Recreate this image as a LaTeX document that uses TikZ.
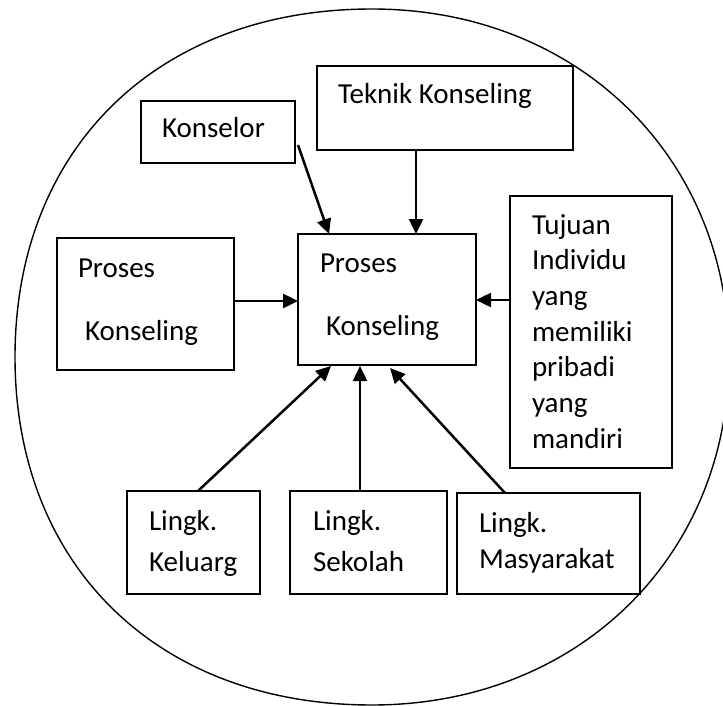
\documentclass[tikz,border=0pt]{standalone}
\usepackage{fontspec}
\setmainfont{Carlito}
\usetikzlibrary{arrows.meta,calc}
\begin{document}
\begin{tikzpicture}[x=1pt,y=-1pt,
  box/.style={draw, line width=1.7pt, inner sep=0pt, outer sep=0pt, anchor=north west},
  txt/.style={anchor=base west, inner sep=0pt, outer sep=0pt, font=\fontsize{29}{35.7}\selectfont},
  arr/.style={line width=2.5pt, -{Triangle[length=15pt,width=14pt]}},
  ring/.style={line width=1.4pt}]
\useasboundingbox (0,0) rectangle (723,706);
\clip (0,0) rectangle (723,706);

% outer oval
\draw[ring] (15,357) .. controls (15,148.2) and (157.8,9) .. (372,9)
  .. controls (577.3,9) and (729,156.9) .. (729,357)
  .. controls (729,557.1) and (577.3,705) .. (372,705)
  .. controls (157.8,705) and (15,565.8) .. (15,357) -- cycle;

% boxes
\node[box, minimum width=154pt, minimum height=62pt]  (konselor) at (141,101) {};
\node[box, minimum width=256pt, minimum height=84pt]  (teknik)   at (317,66)  {};
\node[box, minimum width=177pt, minimum height=132pt] (prosesL)  at (57,238)  {};
\node[box, minimum width=178pt, minimum height=131pt] (center)   at (298,234) {};
\node[box, minimum width=162pt, minimum height=272pt] (tujuan)   at (510,196) {};
\node[box, minimum width=133pt, minimum height=103pt] (keluarg)  at (127,491) {};
\node[box, minimum width=157pt, minimum height=103pt] (sekolah)  at (290,491) {};
\node[box, minimum width=183pt, minimum height=101pt] (masy)     at (457,493) {};

% texts
\node[txt] (tTeknik)   at (338,104) {Teknik Konseling};
\node[txt] (tKonselor) at (162,138) {Konselor};
\node[txt] (tPL1) at (78,277)  {Proses};
\node[txt] (tPL2) at (85,340)  {Konseling};
\node[txt] (tPC1) at (320,272) {Proses};
\node[txt] (tPC2) at (326,335) {Konseling};
\node[txt, text width=135pt, align=left] (tTujuan) at (532,234)
  {Tujuan\\Individu\\yang\\memiliki\\pribadi\\yang\\mandiri};
\node[txt] (tK1) at (149,530) {Lingk.};
\node[txt] (tK2) at (149,571) {Keluarg};
\node[txt] (tS1) at (313,530) {Lingk.};
\node[txt] (tS2) at (313,571) {Sekolah};
\node[txt] (tM1) at (479,532) {Lingk.};
\node[txt] (tM2) at (479,568) {Masyarakat};

% connectors
\draw[arr] ($(konselor.north east)+(3,44)$) -- ($(center.north west)+(31,0)$);
\draw[arr] ($(teknik.south west)+(99,0)$) -- ($(center.north west)+(118,0)$);
\draw[arr] ($(prosesL.north east)+(0,63)$) -- ($(center.north west)+(0,67)$);
\draw[arr] ($(tujuan.north west)+(0,104)$) -- ($(center.north east)+(0,66)$);
\draw[arr] ($(keluarg.north west)+(71,0)$) -- ($(center.south west)+(33,1)$);
\draw[arr] ($(sekolah.north west)+(70,0)$) -- ($(center.south west)+(62,1)$);
\draw[arr] ($(masy.north west)+(48,0)$) -- ($(center.south west)+(92,3)$);
\end{tikzpicture}
\end{document}
